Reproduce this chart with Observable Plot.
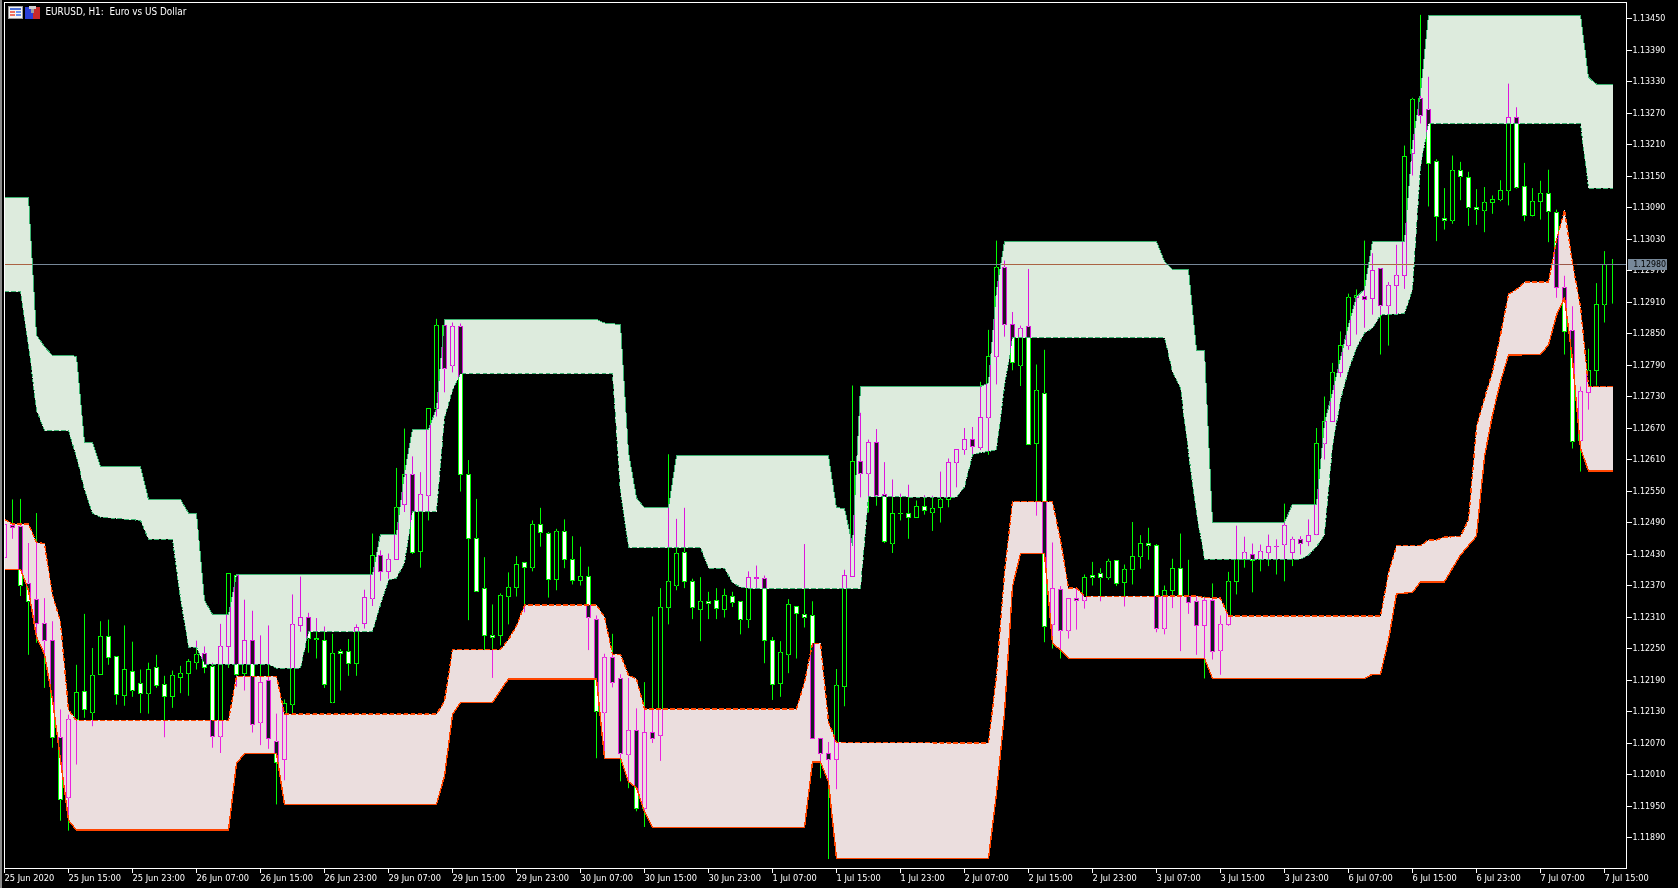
<!DOCTYPE html>
<html><head><meta charset="utf-8">
<script src="https://cdn.jsdelivr.net/npm/d3@7"></script>
<script src="https://cdn.jsdelivr.net/npm/@observablehq/plot@0.6"></script>
<style>
html,body{margin:0;padding:0;background:#000;width:1678px;height:888px;overflow:hidden}
#chart{position:absolute;left:0;top:0}
#strip{position:absolute;left:0;top:0;width:2px;height:888px;background:#8a8a8a}
#cover{position:absolute;left:2px;top:0;width:2px;height:888px;background:#000}
#icons{position:absolute;left:8px;top:6px}
</style></head><body>
<div id="chart"></div><div id="cover"></div><div id="strip"></div>
<svg id="icons" width="34" height="14" shape-rendering="crispEdges">
<rect x="0.5" y="0.5" width="14" height="12" fill="#f4f4f4" stroke="#9a9a9a"/>
<rect x="2" y="2" width="11" height="2" fill="#4a6fd8"/>
<rect x="2" y="5" width="5" height="2" fill="#f07060"/><rect x="8" y="5" width="5" height="2" fill="#6a90f0"/>
<rect x="2" y="8" width="5" height="2" fill="#f07060"/><rect x="8" y="8" width="5" height="2" fill="#6a90f0"/>
<rect x="17" y="1" width="8" height="12" fill="#2a3fd8"/><rect x="25" y="1" width="7" height="12" fill="#c82a2a"/>
<rect x="21" y="0" width="7" height="3" fill="#d0d0d0"/><rect x="23" y="3" width="3" height="4" fill="#a0a0a0"/>
</svg>
<script>
const title = "EURUSD, H1:\u00a0\u00a0Euro vs US Dollar";
const timeLabels = ["25 Jun 2020","25 Jun 15:00","25 Jun 23:00","26 Jun 07:00","26 Jun 15:00","26 Jun 23:00","29 Jun 07:00","29 Jun 15:00","29 Jun 23:00","30 Jun 07:00","30 Jun 15:00","30 Jun 23:00","1 Jul 07:00","1 Jul 15:00","1 Jul 23:00","2 Jul 07:00","2 Jul 15:00","2 Jul 23:00","3 Jul 07:00","3 Jul 15:00","3 Jul 23:00","6 Jul 07:00","6 Jul 15:00","6 Jul 23:00","7 Jul 07:00","7 Jul 15:00"];
const priceTicks = [1.1345,1.1339,1.1333,1.1327,1.1321,1.1315,1.1309,1.1303,1.1297,1.1291,1.1285,1.1279,1.1273,1.1267,1.1261,1.1255,1.1249,1.1243,1.1237,1.1231,1.1225,1.1219,1.1213,1.1207,1.1201,1.1195,1.1189];
const lastPrice = 1.12982, lastLabel = "1.12980";

// H1 candles, prices in points (1e-5)
const opens=[112422,112484,112481,112372,112342,112296,112265,112079,111966,112113,112168,112128,112199,112272,112233,112159,112206,112182,112164,112212,112180,112157,112193,112201,112223,112239,112214,112082,112252,112389,112201,112265,112109,112189,112071,112037,112143,112292,112309,112269,112265,112147,112243,112243,112220,112296,112345,112427,112395,112418,112523,112580,112433,112541,112707,112865,112789,112862,112580,112458,112363,112273,112273,112348,112365,112413,112404,112485,112468,112380,112471,112418,112378,112386,112304,112128,112232,112191,112048,112093,111944,112090,112083,112327,112370,112431,112376,112323,112338,112341,112323,112348,112338,112305,112385,112382,112265,112182,112238,112330,112313,112311,112077,112050,112037,112176,112387,112606,112583,112642,112542,112450,112507,112507,112498,112520,112509,112517,112532,112604,112629,112648,112632,112690,112806,112974,112867,112789,112862,112639,112734,112295,112362,112284,112345,112341,112389,112391,112385,112416,112374,112399,112425,112450,112446,112288,112359,112402,112349,112338,112292,112341,112246,112294,112376,112418,112429,112419,112432,112444,112448,112431,112456,112452,112466,112640,112682,112774,112827,112917,112919,112915,112972,112903,112940,112959,113191,113296,113275,113176,113069,113065,113159,113147,113090,113084,113098,113105,113122,113261,113130,113073,113100,113115,113079,112936,112854,112646,112736,112778,112905,112980];
const closes=[112485,112479,112370,112339,112296,112265,112079,111962,112113,112166,112132,112197,112272,112231,112161,112210,112170,112164,112210,112178,112157,112197,112201,112225,112237,112212,112082,112252,112391,112199,112265,112105,112185,112077,112031,112145,112294,112309,112269,112267,112180,112239,112239,112220,112290,112347,112427,112395,112418,112517,112580,112431,112542,112707,112864,112783,112862,112580,112458,112358,112273,112270,112350,112365,112410,112403,112485,112470,112380,112471,112418,112378,112386,112309,112130,112232,112185,112050,112093,111944,112090,112078,112327,112376,112430,112376,112327,112338,112335,112325,112350,112337,112305,112385,112382,112264,112180,112241,112333,112315,112309,112077,112050,112038,112178,112389,112606,112583,112642,112541,112452,112507,112506,112498,112520,112512,112515,112532,112604,112629,112648,112634,112690,112806,112974,112867,112793,112858,112637,112740,112291,112364,112284,112345,112341,112385,112385,112385,112414,112372,112399,112425,112450,112446,112288,112360,112402,112350,112336,112292,112341,112244,112294,112376,112418,112431,112416,112433,112444,112443,112483,112456,112450,112465,112640,112682,112774,112827,112917,112922,112913,112970,112903,112940,112959,113187,113294,113265,113172,113071,113065,113159,113149,113090,113086,113098,113105,113122,113261,113128,113073,113100,113115,113082,112936,112852,112644,112738,112778,112905,112980,112981];
const highs=[112495,112533,112534,112450,112507,112345,112301,112133,112123,112218,112315,112250,112301,112304,112234,112293,112262,112209,112222,112237,112197,112207,112216,112229,112264,112253,112222,112296,112391,112391,112342,112321,112274,112293,112125,112152,112352,112386,112317,112307,112291,112277,112248,112267,112295,112361,112468,112436,112430,112593,112668,112615,112585,112707,112877,112865,112870,112868,112608,112534,112423,112333,112354,112394,112425,112414,112493,112517,112471,112477,112495,112463,112443,112405,112312,112239,112277,112200,112193,112135,112185,112310,112364,112619,112496,112517,112382,112385,112357,112364,112363,112357,112339,112396,112407,112388,112271,112263,112343,112330,112448,112339,112077,112071,112210,112399,112750,112698,112647,112667,112604,112571,112544,112561,112531,112541,112540,112586,112611,112629,112669,112671,112757,112856,113026,112988,112890,112864,112972,112790,112818,112451,112368,112345,112364,112390,112414,112402,112420,112416,112409,112490,112465,112479,112448,112369,112420,112468,112418,112348,112348,112373,112312,112395,112483,112462,112449,112447,112466,112457,112525,112462,112463,112495,112669,112729,112793,112853,112925,112933,113026,113002,112973,112947,113018,113207,113298,113456,113338,113181,113126,113188,113176,113157,113124,113128,113112,113141,113325,113280,113174,113126,113140,113161,113085,112959,112901,112748,112820,112945,113006,112991];
const lows=[112422,112458,112349,112237,112260,112174,112060,111921,111902,112028,112117,112101,112199,112218,112142,112140,112157,112126,112125,112174,112080,112136,112164,112159,112209,112202,112060,112050,112212,112176,112169,112089,112065,112058,111952,111998,112125,112281,112241,112230,112174,112145,112169,112197,112197,112287,112330,112378,112382,112418,112509,112429,112403,112493,112691,112737,112775,112548,112303,112357,112246,112193,112255,112295,112348,112318,112396,112443,112346,112360,112402,112371,112369,112246,112040,112053,112175,111996,111983,111939,111909,112069,112035,112295,112360,112364,112305,112263,112305,112305,112308,112328,112276,112288,112364,112221,112151,112157,112202,112230,112289,112077,112002,111848,111981,112139,112387,112537,112508,112521,112450,112431,112493,112458,112498,112504,112473,112489,112518,112556,112618,112618,112627,112618,112752,112843,112779,112749,112637,112502,112261,112249,112230,112268,112285,112325,112369,112339,112380,112368,112329,112371,112401,112418,112280,112276,112326,112244,112315,112237,112192,112228,112199,112292,112352,112403,112356,112396,112406,112390,112377,112406,112428,112444,112465,112609,112682,112766,112818,112847,112860,112885,112809,112826,112886,112934,113150,113249,113091,113025,113047,113058,113103,113054,113056,113042,113077,113101,113093,113125,113063,113072,113066,113023,112917,112809,112630,112586,112704,112750,112870,112906];

// Band edges: vertices as bar index and price in points
const upTopBars=[0,3,4,5,6,9,10,11,12,17,18,22,23,24,25,26,28,29,46,47,49,50,51,53,54,55,74,75,77,78,79,80,83,84,103,104,105,106,107,122,123,124,125,144,145,146,148,149,150,151,160,161,164,165,166,167,168,169,170,171,175,176,177,178,197,198,199,201];
const upTopVals=[113109,113109,112847,112825,112808,112807,112643,112643,112596,112596,112534,112534,112508,112508,112342,112315,112315,112391,112391,112468,112468,112584,112668,112668,112707,112877,112877,112870,112867,112624,112537,112518,112518,112617,112617,112518,112517,112447,112749,112749,112756,112933,113025,113025,112987,112972,112972,112818,112818,112490,112490,112525,112525,112679,112739,112803,112866,112920,112934,113026,113026,113212,113308,113456,113456,113338,113325,113325];
const upBotBars=[0,2,3,4,5,8,9,10,11,12,17,18,21,22,23,24,25,33,34,37,38,46,47,48,49,50,51,54,55,56,57,76,77,78,87,88,90,91,92,93,107,108,119,120,121,122,124,125,126,145,146,147,148,149,150,162,163,164,165,166,167,168,169,170,171,172,175,176,177,178,197,198,201];
const upBotVals=[112930,112930,112828,112704,112665,112665,112615,112552,112508,112500,112494,112458,112458,112346,112252,112252,112220,112220,112212,112212,112282,112282,112333,112380,112384,112413,112511,112510,112689,112742,112773,112773,112546,112442,112442,112403,112403,112375,112367,112364,112364,112539,112538,112558,112619,112623,112628,112749,112842,112842,112777,112746,112622,112508,112420,112420,112428,112444,112466,112634,112723,112780,112822,112851,112860,112885,112888,112933,113167,113250,113250,113127,113127];
const lowTopBars=[0,1,3,4,5,6,7,8,9,28,29,34,35,54,55,56,62,63,64,65,74,75,76,77,78,79,80,99,100,101,102,103,104,123,124,125,126,131,132,133,134,135,149,150,152,153,172,173,174,177,178,179,180,182,183,184,185,186,187,188,189,190,193,194,195,196,197,198,201];
const lowTopVals=[112496,112487,112487,112452,112450,112352,112301,112133,112113,112113,112197,112197,112125,112125,112150,112248,112248,112267,112293,112333,112333,112310,112239,112239,112199,112192,112135,112135,112185,112260,112260,112110,112071,112070,112199,112394,112530,112530,112457,112365,112365,112349,112350,112347,112346,112312,112312,112393,112446,112446,112457,112457,112462,112464,112495,112672,112727,112777,112847,112925,112934,112948,112948,113028,113085,112984,112901,112749,112749];
const lowBotBars=[0,2,3,4,5,6,7,8,9,28,29,30,34,35,54,55,56,57,61,62,63,74,75,77,78,79,80,81,100,101,102,103,104,123,124,125,126,127,130,131,132,133,150,151,170,171,172,173,174,176,177,180,181,182,184,185,186,187,188,192,193,194,195,196,197,198,201];
const lowBotVals=[112401,112401,112361,112272,112239,112152,112038,111923,111904,111904,112031,112050,112050,111953,111953,112007,112124,112147,112147,112170,112192,112192,112041,112041,111996,111985,111939,111909,111909,112034,112034,111996,111850,111850,111974,112127,112368,112431,112431,112260,112247,112231,112231,112193,112193,112201,112201,112266,112354,112357,112377,112377,112403,112428,112464,112615,112695,112758,112809,112810,112828,112885,112918,112800,112631,112588,112588];

// Where the last-price line lies inside a band (bar index from, to)
const lineInUpper=[[0,3.5],[124.8,145.1],[170.7,176.3]];
const lineInLower=[[194.5,196.6]];

const bars=d3.range(opens.length).map(i=>({i,o:opens[i]/1e5,c:closes[i]/1e5,h:highs[i]/1e5,l:lows[i]/1e5}));
const pts=(xs,ys)=>xs.map((x,k)=>({x,y:ys[k]/1e5}));
const upTop=pts(upTopBars,upTopVals),upBot=pts(upBotBars,upBotVals),lowTop=pts(lowTopBars,lowTopVals),lowBot=pts(lowBotBars,lowBotVals);
const poly=(a,b)=>a.concat(b.slice().reverse());
const crisp={shapeRendering:"crispEdges"};
const blend={mixBlendMode:"difference",...crisp};
const GREEN="#00ff00",LINE="#778899",font="'DejaVu Sans Condensed','DejaVu Sans',sans-serif";

const plot=Plot.plot({
  width:1678,height:888,marginLeft:4,marginTop:2,marginRight:52,marginBottom:20,
  style:{background:"#000",color:"#fff",fontFamily:font,fontSize:"9.5px",overflow:"visible"},
  x:{type:"linear",domain:[0,201],range:[4,1612]},
  y:{type:"linear",domain:[1.1345,1.1189],range:[18,837]},
  marks:[
    Plot.line(poly(upTop,upBot),{x:"x",y:"y",fill:"#ddebdd",stroke:"none",clip:"frame",...crisp}),
    Plot.line(poly(lowTop,lowBot),{x:"x",y:"y",fill:"#ebdede",stroke:"none",clip:"frame",...crisp}),
    Plot.ruleY([lastPrice],{stroke:LINE,x1:-0.5,x2:202.7,...crisp}),
    Plot.ruleY(lineInUpper,{y:()=>lastPrice,x1:d=>d[0],x2:d=>d[1],stroke:"#aa6344",...crisp}),
    Plot.ruleY(lineInLower,{y:()=>lastPrice,x1:d=>d[0],x2:d=>d[1],stroke:"#9c5647",...crisp}),
    Plot.ruleX(bars,{x:"i",y1:"h",y2:d=>Math.max(d.o,d.c),stroke:GREEN,strokeWidth:1,mixBlendMode:"difference"}),
    Plot.ruleX(bars,{x:"i",y1:d=>Math.min(d.o,d.c),y2:"l",stroke:GREEN,strokeWidth:1,mixBlendMode:"difference"}),
    Plot.rect(bars,{filter:d=>d.c>=d.o,x1:d=>d.i-0.25,x2:d=>d.i+0.25,y1:"o",y2:"c",fill:"none",stroke:GREEN,strokeWidth:1,...blend}),
    Plot.rect(bars,{filter:d=>d.c<d.o,x1:d=>d.i-0.25,x2:d=>d.i+0.25,y1:"o",y2:"c",fill:"#fff",stroke:GREEN,strokeWidth:1,...blend}),
    Plot.line(upTop,{x:"x",y:"y",stroke:"#3cb371",strokeWidth:1,clip:"frame",...crisp}),
    Plot.line(upBot,{x:"x",y:"y",stroke:"#3cb371",strokeWidth:1,strokeDasharray:"4,3",clip:"frame",...crisp}),
    Plot.line(lowBot,{x:"x",y:"y",stroke:"#ff4500",strokeWidth:1.4,clip:"frame",...crisp}),
    Plot.line(lowTop,{x:"x",y:"y",stroke:"#ff4500",strokeWidth:1.4,strokeDasharray:"4,3",clip:"frame",...crisp}),
    Plot.frame({stroke:"#fff",strokeWidth:1,...crisp}),
    Plot.axisX({anchor:"bottom",ticks:timeLabels.map((_,k)=>k*8),tickFormat:i=>timeLabels[i/8],tickSize:5,tickPadding:1,textAnchor:"start",label:null,color:"#fff",fontSize:9.2,...crisp}),
    Plot.axisY({anchor:"right",ticks:priceTicks,tickFormat:".5f",tickSize:5,tickPadding:1,label:null,color:"#fff",fontSize:8.8,...crisp}),
    Plot.ruleY([lastPrice],{x1:203,x2:207.9,stroke:LINE,strokeWidth:11,...crisp}),
    Plot.text([lastLabel],{x:()=>203.6,y:()=>lastPrice,text:d=>d,textAnchor:"start",fill:"#000",fontSize:8.8}),
    Plot.text([title],{frameAnchor:"top-left",dx:41,dy:5,text:d=>d,textAnchor:"start",fill:"#fff",fontSize:9.9})
  ]
});
document.getElementById("chart").append(plot);
</script></body></html>
